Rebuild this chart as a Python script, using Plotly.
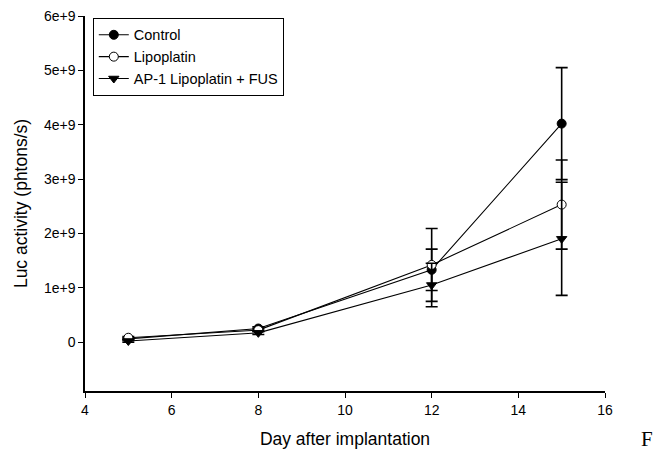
import plotly.graph_objects as go

days = [5, 8, 12, 15]
control = [0.06e9, 0.25e9, 1.33e9, 4.02e9]
control_err = [0.02e9, 0.03e9, 0.38e9, 1.03e9]
lipo = [0.08e9, 0.22e9, 1.42e9, 2.53e9]
lipo_err = [0.02e9, 0.03e9, 0.67e9, 0.82e9]
ap1 = [0.02e9, 0.17e9, 1.05e9, 1.90e9]
ap1_err = [0.02e9, 0.03e9, 0.40e9, 1.04e9]

ytick_vals = [0, 1e9, 2e9, 3e9, 4e9, 5e9, 6e9]
ytick_text = ["0", "1e+9", "2e+9", "3e+9", "4e+9", "5e+9", "6e+9"]
xtick_vals = [4, 6, 8, 10, 12, 14, 16]

fig = go.Figure()
series = [
    ("Control", control, control_err, "circle", "black"),
    ("Lipoplatin", lipo, lipo_err, "circle", "white"),
    ("AP-1 Lipoplatin + FUS", ap1, ap1_err, "triangle-down", "black"),
]
for name, vals, err, sym, fill in series:
    fig.add_trace(go.Scatter(
        x=days, y=vals, name=name, mode="lines+markers",
        line=dict(color="black", width=1.1),
        marker=dict(symbol=sym, size=9, color=fill, line=dict(color="black", width=1)),
        error_y=dict(type="data", array=err, visible=True, color="black", thickness=1.6, width=6),
    ))

font = "Liberation Sans, Arial, sans-serif"
fig.update_layout(
    width=658, height=453,
    margin=dict(l=85, r=53, t=16, b=62, autoexpand=False),
    paper_bgcolor="white", plot_bgcolor="white",
    font=dict(family=font, size=14, color="black"),
    showlegend=True,
    legend=dict(x=0.015, y=0.995, xanchor="left", yanchor="top",
                bordercolor="black", borderwidth=1, bgcolor="white",
                font=dict(size=14.5), tracegroupgap=0),
    xaxis=dict(range=[4, 16], tickvals=xtick_vals, ticks="outside", ticklen=5,
               tickcolor="black", tickfont=dict(size=14), showline=True, linecolor="black",
               linewidth=1.5, showgrid=False, zeroline=False, automargin=False,
               title=dict(text="Day after implantation", standoff=16, font=dict(size=17.5))),
    yaxis=dict(range=[-0.9e9, 6e9], tickvals=ytick_vals, ticktext=ytick_text,
               ticks="outside", ticklen=5, tickcolor="black", tickfont=dict(size=14),
               showline=True, linecolor="black", linewidth=1.5, showgrid=False, zeroline=False,
               automargin=False,
               title=dict(text="Luc activity (phtons/s)", standoff=12, font=dict(size=17.5))),
)
fig.add_annotation(text="F", xref="paper", yref="paper",
                   x=(647 - 85) / 520, y=(391 - 452) / 375, xanchor="center", yanchor="bottom",
                   showarrow=False, borderpad=0,
                   font=dict(family="Liberation Serif, Times New Roman, serif", size=21, color="black"))
fig.write_html("out.html", config={"displayModeBar": False},
               post_script="document.body.style.margin='0';document.body.style.overflow='hidden';")
